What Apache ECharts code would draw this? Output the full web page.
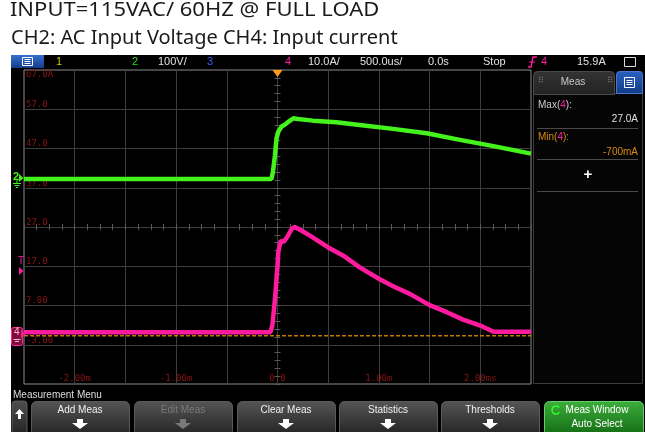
<!DOCTYPE html>
<html><head><meta charset="utf-8">
<script src="https://cdn.jsdelivr.net/npm/echarts@6/dist/echarts.min.js"></script>
<style>html,body{margin:0;padding:0;background:#000}#c{width:645px;height:432px}</style>
</head><body><div id="c"></div>
<script>
// ---- data ----
const timeTicks = [-2, -1, 0, 1, 2];
const timeTickLabels = ['-2.00m', '-1.00m', '0.0', '1.00m', '2.00ms'];
const currentTicks = [-3, 7, 17, 27, 37, 47, 57];
const currentTickLabels = ['-3.00', '7.00', '17.0', '27.0', '37.0', '47.0', '57.0'];
const currentTopTick = [67];
const currentTopLabel = ['67.0A'];
const timeRange = [-2.5, 2.5];
// CH2 voltage (V) vs time (ms)
const voltTime = [-2.5, -0.06, -0.045, -0.025, -0.01, 0.008, 0.041, 0.08, 0.107, 0.156, 0.2, 0.35, 0.58, 0.81, 1.14, 1.47, 1.8, 2.13, 2.5];
const voltage  = [-3, -3, 15, 58, 100, 118, 131, 137, 143, 152, 150, 146, 142, 135, 125, 114, 97, 81, 62];
// CH4 current (A) vs time (ms)
const currTime = [-2.5, -0.07, -0.05, -0.025, 0, 0.008, 0.032, 0.06, 0.09, 0.14, 0.17, 0.222, 0.32, 0.5, 0.65, 0.81, 1.0, 1.14, 1.31, 1.5, 1.67, 1.83, 2.0, 2.13, 2.5];
const current  = [0.2, 0.2, 2, 8.7, 17, 20.6, 23.5, 23.2, 24.2, 26.5, 27.0, 26.3, 24.8, 21.8, 19.7, 16.7, 13.8, 11.9, 9.9, 7.1, 5.3, 3.4, 1.9, 0.3, 0.3];
const minMarker = [-0.7];

function lookup(ticks, labels, v) {
  for (let i = 0; i < ticks.length; i++) if (Math.abs(ticks[i] - v) < 1e-6) return labels[i];
  return '';
}
const RED = '#8b1414';
const GREEN = '#44f21c';
const MAG = '#ff1a9e';
const ORANGE = '#d88400';
const MONO = 'DejaVu Sans Mono';
const UI = '"Liberation Sans", Arial, sans-serif';

function txt(x, y, s, color, font, align, z) {
  align = align || 'left';
  return { type: 'text', x: x, y: y, z: z || 50, silent: true,
    style: { text: s, fill: color, font: font, align: align, textAlign: align, verticalAlign: 'middle', textVerticalAlign: 'middle' } };
}
function rect(x, y, w, h, fill, stroke, r, z, lw) {
  return { type: 'rect', z: z || 40, silent: true, shape: { x: x, y: y, width: w, height: h, r: r || 0 },
    style: { fill: fill, stroke: stroke || null, lineWidth: lw || 1 } };
}
function line(x1, y1, x2, y2, color, z, dash) {
  return { type: 'line', z: z || 50, silent: true, shape: { x1: x1, y1: y1, x2: x2, y2: y2 },
    style: { stroke: color, lineWidth: 1, lineDash: dash || null } };
}
function poly(pts, fill, z) {
  return { type: 'polygon', z: z || 50, silent: true, shape: { points: pts }, style: { fill: fill } };
}
function grad(c1, c2) {
  return { type: 'linear', x: 0, y: 0, x2: 0, y2: 1, colorStops: [{ offset: 0, color: c1 }, { offset: 1, color: c2 }] };
}
function downArrow(cx, cy, color) {
  return poly([[cx - 3, cy - 5], [cx + 3, cy - 5], [cx + 3, cy - 1], [cx + 8, cy - 1], [cx, cy + 5], [cx - 8, cy - 1], [cx - 3, cy - 1]], color, 60);
}

const g = [];
// white header and left strip
g.push(rect(0, 0, 645, 55, '#ffffff', null, 0, 1));
g.push(rect(0, 0, 11, 432, '#ffffff', null, 0, 1));
const t1 = txt(11, 10, 'INPUT=115VAC/ 60HZ @ FULL LOAD', '#1a1a1a', '20px "Noto Sans"', 'left', 5);
t1.scaleX = 1.1; t1.originX = 11;
g.push(t1);
g.push(txt(11, 38, 'CH2: AC Input Voltage CH4: Input current', '#1a1a1a', '20px "Noto Sans"', 'left', 5));

// status bar
g.push(rect(11, 55, 33, 13, grad('#3470d0', '#163c88'), null, 0, 40));
g.push(rect(22.5, 57.5, 10, 8, null, '#ffffff', 0, 45));
g.push(line(24.5, 59.5, 30.5, 59.5, '#ffffff', 45));
g.push(line(24.5, 61.5, 30.5, 61.5, '#ffffff', 45));
g.push(line(24.5, 63.5, 30.5, 63.5, '#ffffff', 45));
const SB = '11px ' + UI;
g.push(txt(56, 62, '1', '#c8c800', SB));
g.push(txt(132, 62, '2', '#22dd22', SB));
g.push(txt(158, 62, '100V/', '#e0e0e0', SB));
g.push(txt(207, 62, '3', '#3b5bff', SB));
g.push(txt(285, 62, '4', MAG, SB));
g.push(txt(308, 62, '10.0A/', '#e0e0e0', SB));
g.push(txt(360, 62, '500.0us/', '#e0e0e0', SB));
g.push(txt(428, 62, '0.0s', '#e0e0e0', SB));
g.push(txt(483, 62, 'Stop', '#e0e0e0', SB));
g.push({ type: 'polyline', z: 50, silent: true, shape: { points: [[528, 67], [531, 67], [533, 57], [537, 57]] }, style: { stroke: MAG, lineWidth: 1.5, fill: null } });
g.push(line(529, 62, 535, 62, MAG, 50));
g.push(txt(541, 62, '4', MAG, SB));
g.push(txt(577, 62, '15.9A', '#e0e0e0', SB));
g.push(rect(624.5, 57.5, 11, 9, null, '#dddddd', 0, 50));

// trigger position marker (top)
g.push(poly([[272.5, 70], [282.5, 70], [277.5, 77]], '#ff9a1a', 100));

// left channel markers
g.push(txt(13, 177, '2', GREEN, 'bold 11px ' + UI, 'left', 100));
g.push(poly([[19, 174], [23.5, 178], [19, 182]], GREEN, 100));
g.push(line(17, 180, 17, 183, GREEN, 100));
g.push(line(13, 183.5, 21, 183.5, GREEN, 100));
g.push(line(14.5, 185.5, 19.5, 185.5, GREEN, 100));
g.push(line(16, 187.5, 18, 187.5, GREEN, 100));
g.push(txt(18, 261, 'T', MAG, '10px ' + UI, 'left', 100));
g.push(poly([[19, 267], [23.5, 271], [19, 275]], MAG, 100));
g.push(rect(11.5, 327.5, 11, 18, '#7e0b3a', '#ff2a9a', 2, 100));
g.push(txt(14, 332, '4', '#ffb4d8', '10px ' + UI, 'left', 101));
g.push(line(13.5, 339.5, 20.5, 339.5, '#ffb4d8', 101));
g.push(line(15, 341.5, 19, 341.5, '#ffb4d8', 101));
g.push(poly([[21, 330], [25, 334], [21, 338]], MAG, 101));

// right measurement panel
g.push(rect(533.5, 93.5, 109, 290, '#050505', '#3c3c3c', 0, 40));
g.push(rect(533.5, 71.5, 81, 23, grad('#343434', '#222222'), '#4a4a4a', [4, 4, 0, 0], 41));
g.push(txt(573, 82, 'Meas', '#c8c8c8', '10px ' + UI, 'center'));
g.push(txt(538, 81, '⠿', '#777', '8px "DejaVu Sans"', 'left'));
g.push(txt(607, 81, '⠿', '#777', '8px "DejaVu Sans"', 'left'));
g.push(rect(616.5, 71.5, 26, 22, grad('#2a62c4', '#123a84'), '#4a78d0', [3, 3, 0, 0], 41));
g.push(rect(624.5, 77.5, 10, 10, null, '#ffffff', 0, 45));
g.push(line(626.5, 80.5, 632.5, 80.5, '#ffffff', 45));
g.push(line(626.5, 82.5, 632.5, 82.5, '#ffffff', 45));
g.push(line(626.5, 84.5, 632.5, 84.5, '#ffffff', 45));
g.push({ type: 'text', x: 538, y: 105, z: 50, silent: true, style: { text: '{w|Max(}{m|4}{w|):}', font: '10px ' + UI, verticalAlign: 'middle', textVerticalAlign: 'middle',
  rich: { w: { fill: '#cccccc', color: '#cccccc', font: '10px ' + UI }, m: { fill: MAG, color: MAG, font: '10px ' + UI } } } });
g.push(txt(638, 119, '27.0A', '#e0e0e0', '10px ' + UI, 'right'));
g.push(line(537, 128.5, 638, 128.5, '#4a4a4a'));
g.push({ type: 'text', x: 538, y: 137, z: 50, silent: true, style: { text: '{o|Min(}{m|4}{o|):}', font: '10px ' + UI, verticalAlign: 'middle', textVerticalAlign: 'middle',
  rich: { o: { fill: '#d88a10', color: '#d88a10', font: '10px ' + UI }, m: { fill: MAG, color: MAG, font: '10px ' + UI } } } });
g.push(txt(638, 152, '-700mA', '#d88a10', '10px ' + UI, 'right'));
g.push(line(537, 159.5, 638, 159.5, '#4a4a4a'));
g.push(txt(588, 175, '+', '#ffffff', 'bold 15px ' + UI, 'center'));
g.push(line(537, 191.5, 638, 191.5, '#4a4a4a'));

// bottom menu
g.push(txt(13, 395, 'Measurement Menu', '#dcdcdc', '10px ' + UI));
g.push(rect(12, 401, 15, 34, grad('#505050', '#222222'), '#5a5a5a', 3, 40));
g.push(poly([[19.5, 409], [24, 414], [21, 414], [21, 419], [18, 419], [18, 414], [15, 414]], '#ffffff', 60));
const btnX = [31, 134, 237, 339, 441];
const btnLabels = ['Add Meas', 'Edit Meas', 'Clear Meas', 'Statistics', 'Thresholds'];
const btnEnabled = [true, false, true, true, true];
for (let i = 0; i < btnX.length; i++) {
  const c = btnEnabled[i] ? '#ffffff' : '#7a7a7a';
  g.push(rect(btnX[i] + 0.5, 401.5, 98, 34, grad('#555555', '#232323'), '#5a5a5a', 5, 40));
  g.push(txt(btnX[i] + 49, 410, btnLabels[i], btnEnabled[i] ? '#f0f0f0' : '#7a7a7a', '10px ' + UI, 'center'));
  g.push(downArrow(btnX[i] + 49, 424, c));
}
g.push(rect(544.5, 401.5, 99, 34, grad('#3cae3c', '#136a13'), '#66d066', 5, 40));
g.push(txt(597, 410, 'Meas Window', '#ffffff', '10px ' + UI, 'center'));
g.push(txt(597, 424, 'Auto Select', '#ffffff', '10px ' + UI, 'center'));
g.push({ type: 'arc', z: 55, silent: true, shape: { cx: 556, cy: 410, r: 4, startAngle: 0.6, endAngle: 5.6 }, style: { stroke: '#2cff2c', lineWidth: 1.5, fill: null } });

const option = {
  animation: false,
  backgroundColor: '#000000',
  grid: { left: 24, top: 70, right: 114, bottom: 48, show: true, backgroundColor: '#000', borderColor: '#8c8c8c', borderWidth: 1, containLabel: false, outerBoundsMode: 'none' },
  xAxis: [
    { type: 'value', min: -2.5, max: 2.5, interval: 0.5, position: 'bottom',
      axisLine: { show: false }, axisTick: { show: false },
      splitLine: { show: true, showMinLine: false, showMaxLine: false, lineStyle: { color: '#3e3e3e', width: 1 } },
      axisLabel: { inside: true, margin: 1, color: RED, fontSize: 9, fontFamily: MONO, showMinLabel: true, showMaxLabel: true, hideOverlap: false,
        formatter: function (v) { return lookup(timeTicks, timeTickLabels, v); } } },
    { type: 'value', min: -2.5, max: 2.5, interval: 0.5,
      axisLine: { show: true, onZero: true, onZeroAxisIndex: 2, lineStyle: { color: '#3e3e3e' } },
      axisTick: { show: true, length: 3, lineStyle: { color: '#5a5a5a' } },
      minorTick: { show: true, splitNumber: 4, length: 3, lineStyle: { color: '#5a5a5a' } },
      axisLabel: { show: false }, splitLine: { show: false } },
    { type: 'value', min: -2.5, max: 2.5, interval: 0.5,
      axisLine: { show: false, onZero: true, onZeroAxisIndex: 2 },
      axisTick: { show: true, inside: true, length: 3, lineStyle: { color: '#5a5a5a' } },
      minorTick: { show: true, splitNumber: 4, length: 3, lineStyle: { color: '#5a5a5a' } },
      axisLabel: { show: false }, splitLine: { show: false } }
  ],
  yAxis: [
    { type: 'value', min: -13, max: 67, interval: 10, position: 'left',
      axisLine: { show: false }, axisTick: { show: false },
      splitLine: { show: true, showMinLine: false, showMaxLine: false, lineStyle: { color: '#3e3e3e', width: 1 } },
      axisLabel: { inside: true, margin: 2, color: RED, fontSize: 9, fontFamily: MONO, verticalAlign: 'bottom', showMinLabel: true, showMaxLabel: true, hideOverlap: false,
        formatter: function (v) { return lookup(currentTicks, currentTickLabels, v); } } },
    { type: 'value', min: -525, max: 275, position: 'left', show: false },
    { type: 'value', min: -4, max: 4, interval: 1, position: 'left',
      axisLine: { show: false }, axisTick: { show: false }, axisLabel: { show: false }, splitLine: { show: false } },
    { type: 'value', min: -4, max: 4, interval: 1, position: 'left',
      axisLine: { show: true, onZero: true, onZeroAxisIndex: 0, lineStyle: { color: '#3e3e3e' } },
      axisTick: { show: true, length: 3, lineStyle: { color: '#5a5a5a' } },
      minorTick: { show: true, splitNumber: 5, length: 3, lineStyle: { color: '#5a5a5a' } },
      axisLabel: { show: false }, splitLine: { show: false } },
    { type: 'value', min: -4, max: 4, interval: 1, position: 'left',
      axisLine: { show: false, onZero: true, onZeroAxisIndex: 0 },
      axisTick: { show: true, inside: true, length: 3, lineStyle: { color: '#5a5a5a' } },
      minorTick: { show: true, splitNumber: 5, length: 3, lineStyle: { color: '#5a5a5a' } },
      axisLabel: { show: false }, splitLine: { show: false } },
    { type: 'value', min: -13, max: 67, interval: 10, position: 'left',
      axisLine: { show: false }, axisTick: { show: false }, splitLine: { show: false },
      axisLabel: { inside: true, margin: 2, color: RED, fontSize: 9, fontFamily: MONO, verticalAlign: 'top', showMinLabel: true, showMaxLabel: true, hideOverlap: false,
        formatter: function (v) { return lookup(currentTopTick, currentTopLabel, v); } } }
  ],
  series: [
    { type: 'line', name: 'Min(4)', xAxisIndex: 0, yAxisIndex: 0, z: 3, showSymbol: false, symbol: 'none', silent: true,
      data: timeRange.map(function (t) { return [t, minMarker[0]]; }),
      itemStyle: { color: ORANGE },
      lineStyle: { color: ORANGE, type: [4, 2], width: 1.6, opacity: 0.9 } },
    { type: 'line', name: 'CH4', xAxisIndex: 0, yAxisIndex: 0, z: 5, showSymbol: false, symbol: 'none',
      data: currTime.map(function (t, i) { return [t, current[i]]; }),
      itemStyle: { color: MAG },
      lineStyle: { color: MAG, width: 4.5 } },
    { type: 'line', name: 'CH2', xAxisIndex: 0, yAxisIndex: 1, z: 5, showSymbol: false, symbol: 'none',
      data: voltTime.map(function (t, i) { return [t, voltage[i]]; }),
      itemStyle: { color: GREEN },
      lineStyle: { color: GREEN, width: 4.5 } }
  ],
  graphic: { elements: g }
};
const chart = echarts.init(document.getElementById('c'), null, { renderer: 'canvas' });
chart.setOption(option);
</script>
</body></html>
